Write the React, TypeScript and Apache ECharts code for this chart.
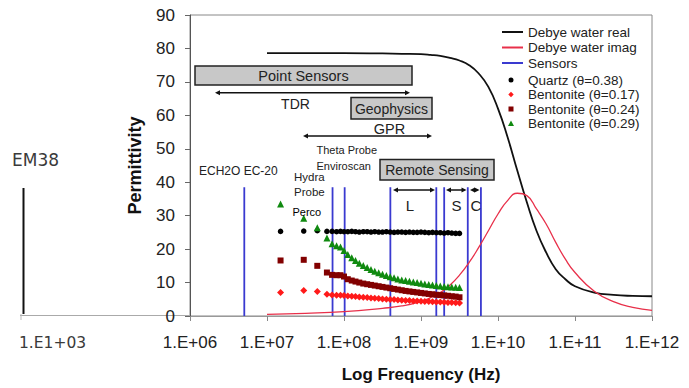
import React, { useEffect, useRef } from 'react';
import * as echarts from 'echarts';

// Debye water model curves
const debyeFreq = [1e7, 3.16e7, 1e8, 3.16e8, 5.62e8, 1e9, 1.33e9, 1.78e9, 2.37e9, 3.16e9, 4.22e9, 5.62e9, 7.5e9, 1e10, 1.33e10, 1.78e10, 2.37e10, 3.16e10, 4.22e10, 5.62e10, 7.5e10, 1e11, 1.78e11, 3.16e11, 5.62e11, 1e12];
const debyeReal = [78.6, 78.6, 78.6, 78.5, 78.4, 78.3, 78.1, 77.8, 77.2, 76.4, 75.0, 72.5, 68.5, 62.0, 53.5, 43.5, 34.0, 25.5, 19.0, 14.0, 11.0, 8.9, 7.0, 6.3, 6.0, 5.9];
const debyeImag = [0.5, 0.8, 1.3, 2.3, 3.0, 4.3, 5.5, 7.0, 9.2, 12.2, 16.0, 20.5, 25.5, 30.5, 34.5, 36.7, 36.0, 32.0, 27.5, 22.0, 17.0, 13.0, 7.4, 4.3, 2.6, 1.7];

// Sensor frequencies (vertical lines)
const sensorFreq = [5.07e6, 7.1e7, 1.02e8, 4.0e8, 1.58e9, 2.0e9, 4.05e9, 6.0e9];
const sensorTop = 38.5;

// Measured permittivity
const measFreq = [1.5e7, 3e7, 4.5e7, 6e7, 7e7, 8e7, 9e7, 1e8, 1.12e8, 1.26e8, 1.41e8, 1.58e8, 1.78e8, 2e8, 2.24e8, 2.51e8, 2.82e8, 3.16e8, 3.55e8, 3.98e8, 4.47e8, 5.01e8, 5.62e8, 6.31e8, 7.08e8, 7.94e8, 8.91e8, 1e9, 1.12e9, 1.26e9, 1.41e9, 1.58e9, 1.78e9, 2e9, 2.24e9, 2.51e9, 2.82e9, 3.16e9];
const quartz038 = [25.3, 25.4, 25.5, 25.3, 25.3, 25.2, 25.3, 25.2, 25.2, 25.3, 25.2, 25.1, 25.2, 25.2, 25.1, 25.2, 25.1, 25.1, 25.2, 25.1, 25.0, 25.1, 25.1, 25.0, 25.1, 25.0, 25.0, 25.1, 25.0, 24.9, 25.0, 24.9, 24.9, 24.8, 24.9, 24.8, 24.7, 24.7];
const bent017 = [7.0, 7.6, 7.3, 6.5, 6.3, 6.2, 6.2, 6.1, 6.0, 5.9, 5.8, 5.7, 5.6, 5.5, 5.4, 5.3, 5.2, 5.1, 5.0, 4.95, 4.9, 4.8, 4.7, 4.65, 4.6, 4.5, 4.45, 4.4, 4.35, 4.3, 4.25, 4.2, 4.15, 4.1, 4.05, 4.0, 3.95, 3.9];
const bent024 = [16.6, 16.8, 15.0, 13.0, 12.3, 12.2, 12.2, 11.8, 11.0, 10.6, 10.3, 10.0, 9.7, 9.5, 9.3, 9.1, 8.9, 8.7, 8.5, 8.3, 8.1, 7.9, 7.7, 7.5, 7.35, 7.2, 7.05, 6.9, 6.75, 6.6, 6.5, 6.35, 6.25, 6.15, 6.05, 5.9, 5.8, 5.6];
const bent029 = [33.5, 29.2, 26.4, 23.3, 21.6, 21.0, 20.6, 19.6, 18.4, 17.4, 16.6, 15.8, 15.1, 14.5, 13.9, 13.4, 12.9, 12.5, 12.1, 11.7, 11.4, 11.1, 10.8, 10.6, 10.4, 10.2, 10.0, 9.8, 9.6, 9.45, 9.3, 9.15, 9.0, 8.85, 8.75, 8.65, 8.6, 8.5];

const FONT = '"Liberation Sans", Arial, sans-serif';
const zip = (xs: number[], ys: number[]) => xs.map((x, i) => [x, ys[i]]);

// legend icon paths in a 21x6 box (degenerate corner segments fix the box)
const FRAME = 'M0,0 L0.01,0 M21,6 L20.99,6 ';
const ICON_CIRCLE = 'path://' + FRAME + 'M11.5,3 A2.5,2.5 0 1 1 6.5,3 A2.5,2.5 0 1 1 11.5,3 Z';
const ICON_DIAMOND = 'path://' + FRAME + 'M9,0.3 L11.7,3 L9,5.7 L6.3,3 Z';
const ICON_SQUARE = 'path://' + FRAME + 'M6.5,0.5 L11.5,0.5 L11.5,5.5 L6.5,5.5 Z';
const ICON_TRIANGLE = 'path://' + FRAME + 'M9,0 L12,5.6 L6,5.6 Z';

function txt(text: string, x: number, y: number, size: number, align = 'center', extra: any = {}) {
  return {
    type: 'text', x, y, z: 100,
    style: {
      text, fontSize: size, fontFamily: FONT, fill: '#222',
      align, verticalAlign: 'middle', textAlign: align, textVerticalAlign: 'middle', ...extra,
    },
  };
}
function box(x: number, y: number, w: number, h: number) {
  return { type: 'rect', z: 99, shape: { x, y, width: w, height: h }, style: { fill: '#c8c8c8', stroke: '#222', lineWidth: 1.5 } };
}
function dblArrow(x1: number, x2: number, y: number) {
  const h = 5, w = 2.5;
  return [
    { type: 'line', z: 100, shape: { x1: x1 + 2, y1: y, x2: x2 - 2, y2: y }, style: { stroke: '#111', lineWidth: 1.5 } },
    { type: 'polygon', z: 100, shape: { points: [[x1, y], [x1 + h, y - w], [x1 + h, y + w]] }, style: { fill: '#111' } },
    { type: 'polygon', z: 100, shape: { points: [[x2, y], [x2 - h, y - w], [x2 - h, y + w]] }, style: { fill: '#111' } },
  ];
}

export default function App() {
  const ref = useRef<HTMLDivElement>(null);
  useEffect(() => {
    const chart = echarts.init(ref.current!, null, { renderer: 'svg' });
    const sensorSeries = sensorFreq.map((f) => ({
      name: 'Sensors', type: 'line', symbol: 'none', z: 2,
      data: [[f, 0], [f, sensorTop]],
      lineStyle: { color: '#3a3ad0', width: 1.8 }, itemStyle: { color: '#3a3ad0' },
    }));
    const legendText = { fontFamily: FONT, fontSize: 13.5, lineHeight: 14, color: '#222' };
    const option: any = {
      animation: false,
      backgroundColor: '#fff',
      grid: { left: 190, top: 15, right: 37, bottom: 72, show: true, borderColor: '#888', borderWidth: 1 },
      xAxis: {
        type: 'log', logBase: 10, min: 1e6, max: 1e12,
        name: 'Log Frequency (Hz)', nameLocation: 'middle', nameGap: 50,
        nameTextStyle: { fontFamily: FONT, fontSize: 17, fontWeight: 'bold', color: '#111' },
        axisLine: { lineStyle: { color: '#999', width: 1 } },
        axisTick: { show: true, inside: false, length: 5, lineStyle: { color: '#888' } },
        minorTick: { show: false }, splitLine: { show: false },
        axisLabel: {
          margin: 18, fontFamily: FONT, fontSize: 17, color: '#222',
          formatter: (v: number) => '1.E+' + String(Math.round(Math.log10(v))).padStart(2, '0'),
        },
      },
      yAxis: {
        type: 'value', min: 0, max: 90, interval: 10,
        name: 'Permittivity', nameLocation: 'middle', nameGap: 46,
        nameTextStyle: { fontFamily: FONT, fontSize: 18, fontWeight: 'bold', color: '#111' },
        axisLine: { show: true, lineStyle: { color: '#555', width: 1 } },
        axisTick: { show: true, inside: false, length: 5, lineStyle: { color: '#666' } },
        splitLine: { show: false },
        axisLabel: { margin: 15, fontFamily: FONT, fontSize: 17, color: '#222' },
      },
      legend: [
        {
          orient: 'vertical', left: 502, top: 25, padding: 0, itemGap: 1.5,
          itemWidth: 21, itemHeight: 2,
          textStyle: legendText,
          data: [
            { name: 'Debye water real', icon: 'rect' },
            { name: 'Debye water imag', icon: 'rect' },
            { name: 'Sensors', icon: 'rect' },
          ],
        },
        {
          orient: 'vertical', left: 502, top: 73, padding: 0, itemGap: 0.5,
          itemWidth: 21, itemHeight: 6,
          textStyle: legendText,
          data: [
            { name: 'Quartz (θ=0.38)', icon: ICON_CIRCLE },
            { name: 'Bentonite (θ=0.17)', icon: ICON_DIAMOND },
            { name: 'Bentonite (θ=0.24)', icon: ICON_SQUARE },
            { name: 'Bentonite (θ=0.29)', icon: ICON_TRIANGLE },
          ],
        },
      ],
      series: [
        {
          name: 'Debye water real', type: 'line', symbol: 'none', smooth: true, z: 3,
          data: zip(debyeFreq, debyeReal),
          lineStyle: { color: '#111', width: 1.8 }, itemStyle: { color: '#111' },
        },
        {
          name: 'Debye water imag', type: 'line', symbol: 'none', smooth: true, z: 3,
          data: zip(debyeFreq, debyeImag),
          lineStyle: { color: '#e8304a', width: 1.3 }, itemStyle: { color: '#e8304a' },
        },
        ...sensorSeries,
        {
          name: 'Quartz (θ=0.38)', type: 'scatter', symbol: 'circle', symbolSize: 5.5, z: 4,
          data: zip(measFreq, quartz038), itemStyle: { color: '#000', opacity: 1 },
        },
        {
          name: 'Bentonite (θ=0.17)', type: 'scatter', symbol: 'diamond', symbolSize: 7, z: 4,
          data: zip(measFreq, bent017), itemStyle: { color: '#ff1a1a', opacity: 1 },
        },
        {
          name: 'Bentonite (θ=0.24)', type: 'scatter', symbol: 'rect', symbolSize: 6, z: 4,
          data: zip(measFreq, bent024), itemStyle: { color: '#820000', opacity: 1 },
        },
        {
          name: 'Bentonite (θ=0.29)', type: 'scatter', symbol: 'triangle', symbolSize: 7, z: 4,
          data: zip(measFreq, bent029), itemStyle: { color: '#108a10', opacity: 1 },
        },
      ],
      graphic: [
        // left EM38 piece
        txt('EM38', 12, 160, 17, 'left', { fontFamily: '"DejaVu Sans", sans-serif', fill: '#3a3a3a' }),
        { type: 'line', shape: { x1: 23.5, y1: 188, x2: 23.5, y2: 314 }, style: { stroke: '#111', lineWidth: 2 } },
        { type: 'line', shape: { x1: 20, y1: 315.5, x2: 190, y2: 315.5 }, style: { stroke: '#aaa', lineWidth: 1 } },
        { type: 'line', shape: { x1: 21, y1: 314, x2: 21, y2: 320 }, style: { stroke: '#bbb', lineWidth: 1 } },
        txt('1.E1+03', 19, 343, 15.5, 'left', { fontFamily: '"DejaVu Sans", sans-serif', fill: '#3a3a3a' }),
        // annotations
        box(195, 66, 217, 19),
        txt('Point Sensors', 303.5, 76, 14.5),
        ...dblArrow(215, 410, 92.7),
        txt('TDR', 295.5, 103.5, 14),
        box(351, 97.5, 81, 21.5),
        txt('Geophysics', 391.5, 108.5, 14),
        txt('GPR', 389.5, 129.3, 14.5),
        ...dblArrow(303, 432, 136),
        txt('Theta Probe', 316.5, 150, 11, 'left'),
        txt('Enviroscan', 316.5, 165.5, 11, 'left'),
        txt('ECH2O EC-20', 199, 171, 12, 'left'),
        txt('Hydra', 294, 176.5, 11.5, 'left'),
        txt('Probe', 294, 191.5, 11.5, 'left'),
        txt('Perco', 292.5, 212, 11, 'left', { fill: '#000' }),
        box(380, 159.5, 114, 20.5),
        txt('Remote Sensing', 437, 170, 14),
        ...dblArrow(393, 435, 190),
        ...dblArrow(446, 466.5, 190),
        ...dblArrow(470, 479.5, 190),
        txt('L', 410, 205, 15),
        txt('S', 456.5, 205, 15),
        txt('C', 476, 205, 15),
      ],
    };
    chart.setOption(option);
    return () => chart.dispose();
  }, []);
  return (
    <div
      ref={ref}
      style={{ position: 'fixed', left: 0, top: 0, width: 689, height: 388, background: '#fff' }}
    />
  );
}
